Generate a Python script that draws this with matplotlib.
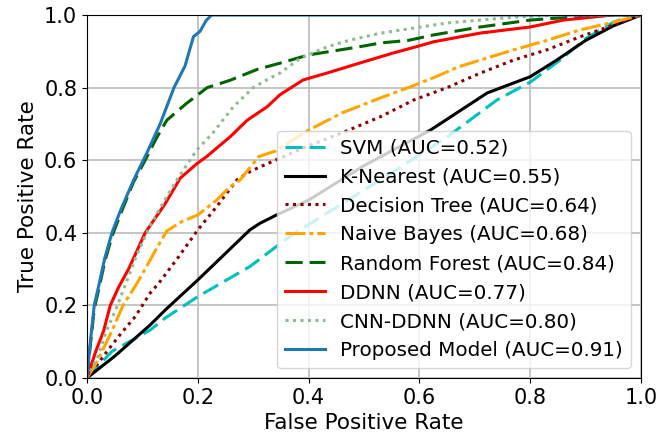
import numpy as np
import matplotlib
matplotlib.use('Agg')
import matplotlib.pyplot as plt

# ROC curve points
svm_fpr = [0, 0.045, 0.114, 0.141, 0.2, 0.294, 0.366, 0.45, 0.55, 0.65, 0.74, 0.8, 0.854, 0.9, 0.95, 0.975, 1.0]
svm_tpr = [0, 0.073, 0.132, 0.165, 0.224, 0.307, 0.39, 0.47, 0.565, 0.664, 0.766, 0.815, 0.876, 0.935, 0.98, 0.994, 1.0]

knn_fpr = [0, 0.05, 0.114, 0.141, 0.2, 0.294, 0.312, 0.342, 0.4, 0.5, 0.62, 0.722, 0.8, 0.848, 0.9, 0.95, 1.0]
knn_tpr = [0, 0.06, 0.146, 0.187, 0.27, 0.408, 0.426, 0.449, 0.49, 0.585, 0.683, 0.785, 0.83, 0.876, 0.93, 0.97, 1.0]

dt_fpr = [0, 0.038, 0.06, 0.087, 0.114, 0.129, 0.165, 0.2, 0.234, 0.27, 0.29, 0.31, 0.34, 0.4, 0.46, 0.53, 0.59, 0.65, 0.71, 0.77, 0.83, 0.89, 0.94, 1.0]
dt_tpr = [0, 0.077, 0.12, 0.169, 0.234, 0.26, 0.333, 0.408, 0.472, 0.545, 0.565, 0.58, 0.60, 0.64, 0.675, 0.72, 0.766, 0.80, 0.84, 0.876, 0.904, 0.94, 0.967, 1.0]

nb_fpr = [0, 0.02, 0.045, 0.065, 0.09, 0.114, 0.123, 0.144, 0.17, 0.2, 0.234, 0.258, 0.276, 0.31, 0.34, 0.4, 0.46, 0.52, 0.58, 0.63, 0.67, 0.71, 0.77, 0.83, 0.89, 0.95, 1.0]
nb_tpr = [0, 0.05, 0.13, 0.2, 0.26, 0.325, 0.35, 0.405, 0.43, 0.449, 0.49, 0.527, 0.545, 0.61, 0.625, 0.683, 0.73, 0.766, 0.80, 0.83, 0.857, 0.876, 0.904, 0.93, 0.959, 0.98, 1.0]

rf_fpr = [0, 0.006, 0.013, 0.022, 0.032, 0.045, 0.06, 0.084, 0.105, 0.125, 0.144, 0.18, 0.217, 0.258, 0.307, 0.35, 0.4, 0.49, 0.53, 0.58, 0.625, 0.71, 0.8, 0.9, 0.95, 1.0]
rf_tpr = [0, 0.09, 0.19, 0.25, 0.32, 0.39, 0.45, 0.54, 0.60, 0.66, 0.71, 0.757, 0.80, 0.82, 0.85, 0.868, 0.89, 0.912, 0.923, 0.93, 0.945, 0.967, 0.986, 0.997, 1.0, 1.0]

ddnn_fpr = [0, 0.015, 0.03, 0.042, 0.057, 0.075, 0.09, 0.105, 0.123, 0.141, 0.168, 0.198, 0.216, 0.258, 0.289, 0.325, 0.348, 0.39, 0.433, 0.493, 0.552, 0.60, 0.625, 0.709, 0.80, 0.86, 0.95, 1.0]
ddnn_tpr = [0, 0.07, 0.13, 0.2, 0.25, 0.3, 0.35, 0.40, 0.44, 0.48, 0.55, 0.59, 0.61, 0.664, 0.71, 0.747, 0.78, 0.821, 0.84, 0.868, 0.895, 0.915, 0.926, 0.95, 0.967, 0.986, 1.0, 1.0]

cnn_fpr = [0, 0.02, 0.035, 0.054, 0.075, 0.09, 0.114, 0.144, 0.162, 0.198, 0.227, 0.264, 0.30, 0.33, 0.348, 0.384, 0.433, 0.475, 0.53, 0.65, 0.77, 0.85, 1.0]
cnn_tpr = [0, 0.06, 0.13, 0.196, 0.28, 0.34, 0.42, 0.50, 0.545, 0.628, 0.675, 0.747, 0.80, 0.826, 0.84, 0.88, 0.912, 0.931, 0.95, 0.978, 0.994, 1.0, 1.0]

prop_fpr = [0, 0.006, 0.013, 0.022, 0.032, 0.045, 0.06, 0.084, 0.108, 0.132, 0.157, 0.177, 0.192, 0.204, 0.215, 0.225, 1.0]
prop_tpr = [0, 0.1, 0.2, 0.26, 0.33, 0.40, 0.46, 0.545, 0.62, 0.70, 0.80, 0.86, 0.94, 0.955, 0.985, 1.0, 1.0]

labels = ['SVM (AUC=0.52)', 'K-Nearest (AUC=0.55)', 'Decision Tree (AUC=0.64)',
          'Naive Bayes (AUC=0.68)', 'Random Forest (AUC=0.84)', 'DDNN (AUC=0.77)',
          'CNN-DDNN (AUC=0.80)', 'Proposed Model (AUC=0.91)']

fig = plt.figure(figsize=(6.72, 4.41), dpi=100)
ax = fig.add_axes([0.1295, 0.143, 0.8245, 0.823])

lw = 2.2
dash = (0, (5.6, 2.3))
dot = (0, (1.0, 1.45))
dashdot = (0, (6.5, 1.3, 1.3, 1.3))
ax.plot(svm_fpr, svm_tpr, color='c', lw=lw, linestyle=dash, label=labels[0])
ax.plot(knn_fpr, knn_tpr, color='black', lw=lw, label=labels[1])
ax.plot(dt_fpr, dt_tpr, color='darkred', lw=lw, linestyle=dot, label=labels[2])
ax.plot(nb_fpr, nb_tpr, color='orange', lw=lw, linestyle=dashdot, label=labels[3])
ax.plot(rf_fpr, rf_tpr, color='darkgreen', lw=lw, linestyle=dash, label=labels[4])
ax.plot(ddnn_fpr, ddnn_tpr, color='red', lw=lw, label=labels[5])
ax.plot(cnn_fpr, cnn_tpr, color='darkseagreen', lw=lw, linestyle=dot, label=labels[6])
ax.plot(prop_fpr, prop_tpr, color='#1f77b4', lw=lw, label=labels[7])

ax.set_xlim(0, 1)
ax.set_ylim(0, 1)
ax.set_xticks([0, 0.2, 0.4, 0.6, 0.8, 1.0])
ax.set_yticks([0, 0.2, 0.4, 0.6, 0.8, 1.0])
ax.tick_params(labelsize=15)
ax.set_xlabel('False Positive Rate', fontsize=15.5)
ax.set_ylabel('True Positive Rate', fontsize=15.5)
ax.grid(True, color='#c0c0c0', lw=1.3)
ax.legend(loc='lower right', fontsize=14.3, labelspacing=0.5)

fig.savefig('out.png', dpi=100)
